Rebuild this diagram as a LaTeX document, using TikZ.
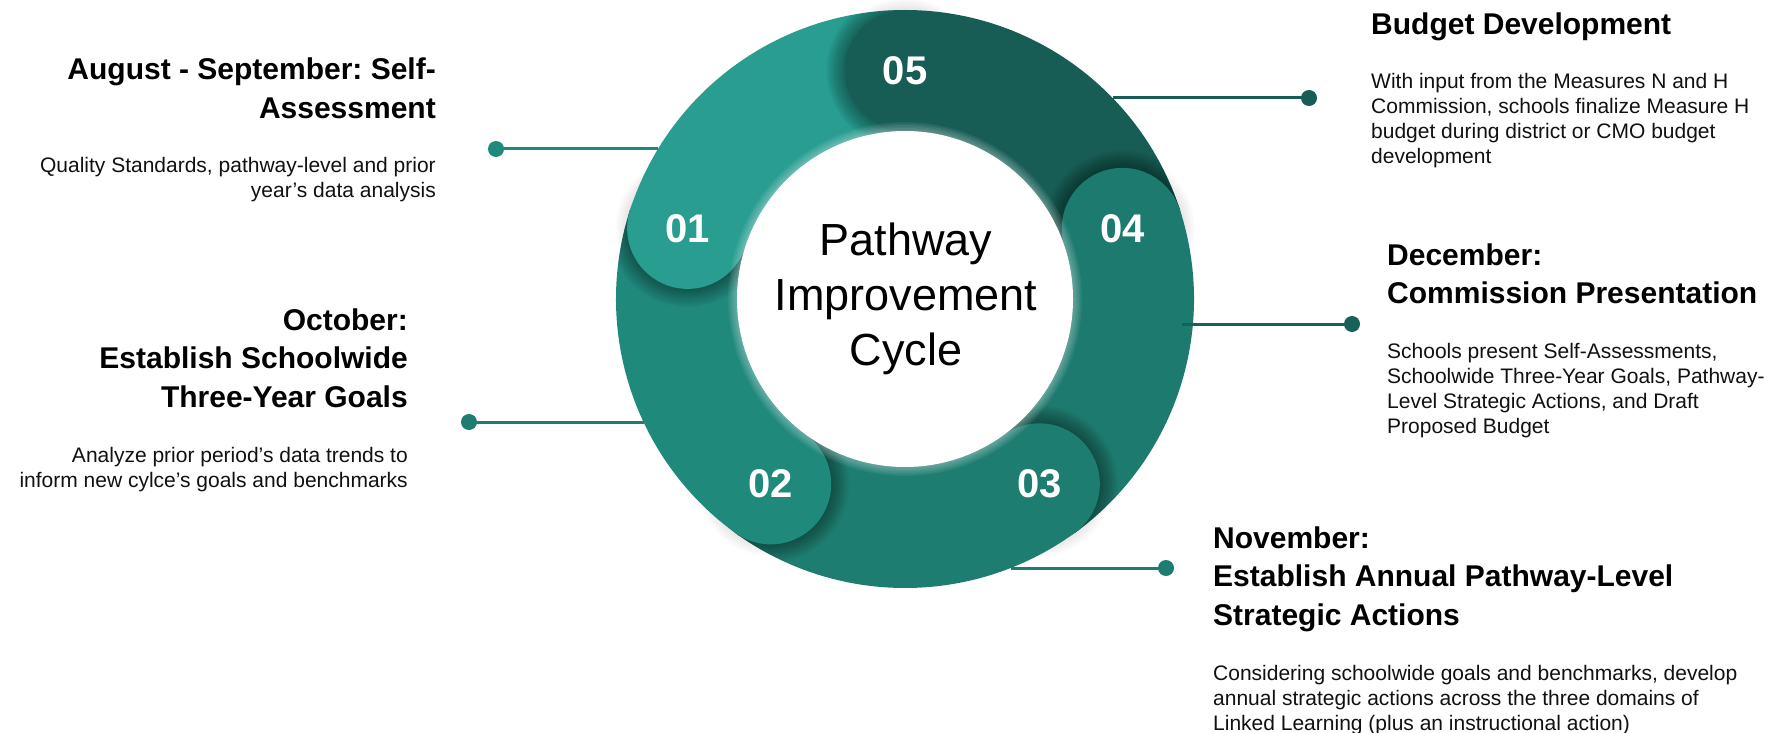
\documentclass[tikz,border=0pt]{standalone}
\usepackage{fontspec}
\setmainfont{Liberation Sans}
\usetikzlibrary{calc}
\frenchspacing
\definecolor{cA}{HTML}{289D90}
\definecolor{cB}{HTML}{1F897C}
\definecolor{cC}{HTML}{1E7D71}
\definecolor{cD}{HTML}{1D7A6E}
\definecolor{cE}{HTML}{175D55}
\definecolor{txt}{HTML}{111111}
\begin{document}
\begin{tikzpicture}[x=1pt,y=1pt,
  headtxt/.style={inner sep=0pt, font=\fontsize{30}{38.5}\selectfont\bfseries, text=black},
  bodytxt/.style={inner sep=0pt, font=\fontsize{21}{25}\selectfont, text=txt},
  numlab/.style={inner sep=0pt, font=\fontsize{40}{40}\selectfont\bfseries, text=white},
  centertxt/.style={inner sep=0pt, font=\fontsize{45}{55}\selectfont, text=black},
  conn/.style={line width=3pt},
  dot/.style={circle, inner sep=0pt, minimum size=16pt}]
\useasboundingbox (0,0) rectangle (1765,-733);
\fill[white] (0,0) rectangle (1765,-733);
\coordinate (C) at (905,-299);
% ring bodies
\foreach \a/\col in {162/cA,234/cB,306/cC,18/cD,90/cE} {
  \fill[\col] (C) -- ($(C)+(\a+1:289pt)$) arc[start angle=\a+1, end angle=\a-72, radius=289pt] -- cycle;
}
% heads with shadows
\foreach \a/\col/\lab in {162/cA/01,234/cB/02,306/cC/03,18/cD/04,90/cE/05} {
  \begin{scope}
    \clip (C) -- ($(C)+(\a:289pt)$) arc[start angle=\a, end angle=\a+50, radius=289pt] -- cycle;
    \foreach \i in {1,...,12}
      \fill[black, opacity=0.03] ($(C)+(\a:228.5pt)$) circle[radius=60.5pt+1.5pt*\i];
  \end{scope}
  \begin{scope}[even odd rule]
    \clip (C) circle[radius=289pt] (C) circle[radius=340pt];
    \foreach \i in {1,...,8}
      \fill[black, opacity=0.012] ($(C)+(\a:228.5pt)$) circle[radius=60.5pt+1.5pt*\i];
  \end{scope}
  \fill[\col] ($(C)+(\a:228.5pt)$) circle[radius=60.5pt];
}
% inner circle with soft glow
\foreach \i in {1,...,6}
  \fill[white, opacity=0.06] (C) circle[radius=168pt+1.5pt*\i];
\fill[white] (C) circle[radius=168pt];
% numbers
\node[numlab] (n01) at ($(C)+(162:228.5pt)$) {01};
\node[numlab] (n02) at ($(C)+(234:228.5pt)$) {02};
\node[numlab] (n03) at ($(C)+(306:228.5pt)$) {03};
\node[numlab] (n04) at ($(C)+(18:228.5pt)$) {04};
\node[numlab] (n05) at ($(C)+(90:228.5pt)$) {05};
% center title
\node[centertxt, anchor=base] (title) at (906,-255) {\begin{tabular}[t]{@{}c@{}}Pathway\\Improvement\\Cycle\end{tabular}};
% connectors
\coordinate (e1) at (658,-149);
\coordinate (e2) at (644,-422);
\coordinate (e5) at (1113,-98);
\coordinate (e4) at (1182,-324);
\coordinate (e3) at (1011,-568);
\node[dot, fill=cB] (d1) at (496,-149) {};
\node[dot, fill=cC] (d2) at (469,-422) {};
\node[dot, fill=cE] (d5) at (1309,-98) {};
\node[dot, fill=cE!85!cD] (d4) at (1352,-324) {};
\node[dot, fill=cC] (d3) at (1166,-568) {};
\draw[conn, cB] (e1) -- (d1.center);
\draw[conn, cC] (e2) -- (d2.center);
\draw[conn, cE] (e5) -- (d5.center);
\draw[conn, cE!85!cD] (e4) -- (d4.center);
\draw[conn, cC] (e3) -- (d3.center);
% left texts
\node[headtxt, anchor=base east] (h1) at (436,-80) {\begin{tabular}[t]{@{}r@{}}August - September: Self-\\Assessment\end{tabular}};
\node[bodytxt, anchor=base east] (b1) at (436,-172) {\begin{tabular}[t]{@{}r@{}}Quality Standards, pathway-level and prior\\year’s data analysis\end{tabular}};
\node[headtxt, anchor=base east] (h2) at (408,-330) {\begin{tabular}[t]{@{}r@{}}October:\\Establish Schoolwide\\Three-Year Goals\end{tabular}};
\node[bodytxt, anchor=base east] (b2) at (408,-462) {\begin{tabular}[t]{@{}r@{}}Analyze prior period’s data trends to\\inform new cylce’s goals and benchmarks\end{tabular}};
% right texts
\node[headtxt, anchor=base west] (h5) at (1371,-35) {\begin{tabular}[t]{@{}l@{}}Budget Development\end{tabular}};
\node[bodytxt, anchor=base west] (b5) at (1371,-89) {\begin{tabular}[t]{@{}l@{}}With input from the Measures N and H\\Commission, schools finalize Measure H\\budget during district or CMO budget\\development\end{tabular}};
\node[headtxt, anchor=base west] (h4) at (1387,-265) {\begin{tabular}[t]{@{}l@{}}December:\\Commission Presentation\end{tabular}};
\node[bodytxt, anchor=base west] (b4) at (1387,-358) {\begin{tabular}[t]{@{}l@{}}Schools present Self-Assessments,\\Schoolwide Three-Year Goals, Pathway-\\Level Strategic Actions, and Draft\\Proposed Budget\end{tabular}};
\node[headtxt, anchor=base west] (h3) at (1213,-548) {\begin{tabular}[t]{@{}l@{}}November:\\Establish Annual Pathway-Level\\Strategic Actions\end{tabular}};
\node[bodytxt, anchor=base west] (b3) at (1213,-680) {\begin{tabular}[t]{@{}l@{}}Considering schoolwide goals and benchmarks, develop\\annual strategic actions across the three domains of\\Linked Learning (plus an instructional action)\end{tabular}};
\end{tikzpicture}
\end{document}
